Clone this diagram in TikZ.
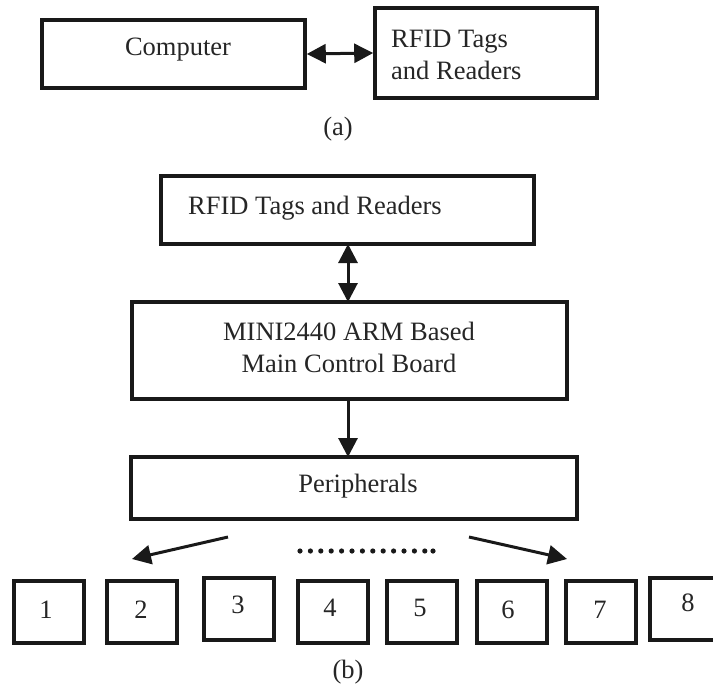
\documentclass[tikz,border=0pt]{standalone}
\usepackage{fontspec}
\setmainfont{Liberation Serif}
\usetikzlibrary{arrows.meta}
\tikzset{
  blk/.style={draw=black!90, line width=3.6pt, inner sep=0pt, fill=white},
  sq/.style={blk, minimum width=70pt, minimum height=62pt},
  lbl/.style={inner sep=0pt, text=black!85, font=\fontsize{26.5}{32}\selectfont},
  conn/.style={line width=3pt, black!90},
  tip/.style={-{Triangle[length=19pt,width=19pt]}},
  dtip/.style={{Triangle[length=19pt,width=19pt]}-{Triangle[length=19pt,width=19pt]}}
}
\begin{document}
\begin{tikzpicture}[x=1pt,y=-1pt]
\useasboundingbox (0,0) rectangle (713,689);
\fill[white] (0,0) rectangle (713,689);
% (a)
\node[blk, minimum width=263pt, minimum height=68pt] (comp) at (173.5,54) {};
\node[lbl] at (178,50) {Computer};
\node[blk, minimum width=222pt, minimum height=90pt] (rfa) at (486,53) {};
\node[lbl, align=left, anchor=west] (rfatext) at (391,55) {RFID Tags\\and Readers};
\draw[conn, dtip] (comp.east) -- (rfa.west);
\node[lbl] (capa) at (338,129) {(a)};
% (b)
\node[blk, minimum width=373pt, minimum height=68pt] (rfb) at (347.5,210) {};
\node[lbl, anchor=west] at (188,208) {RFID Tags and Readers};
\node[blk, minimum width=435pt, minimum height=97pt] (mini) at (349.5,350.5) {};
\node[lbl, align=center] at (349,347) {MINI2440 ARM Based\\Main Control Board};
\node[blk, minimum width=446pt, minimum height=62pt] (per) at (354,488) {};
\node[lbl] at (358,486) {Peripherals};
\coordinate (c1) at (348,244);
\coordinate (c2) at (348,302);
\coordinate (c3) at (348,399);
\coordinate (c4) at (348,457);
\draw[conn, dtip] (c1) -- (c2);
\draw[conn, tip] (c3) -- (c4);
\coordinate (la) at (228,537);
\coordinate (lb) at (132,559);
\coordinate (ra) at (469,537);
\coordinate (rb) at (567,559);
\draw[conn, tip] (la) -- (lb);
\draw[conn, tip] (ra) -- (rb);
\foreach \i in {0,...,12} {
  \fill[black!90] ({300+\i*10.4},551) circle (2.6pt);
}
\fill[black!90] (433,551) circle (2.6pt);
\node[sq] (b1) at (49,612) {};
\node[lbl] at (46,610) {1};
\node[sq] (b2) at (142,612) {};
\node[lbl] at (141,610) {2};
\node[sq] (b3) at (239,609) {};
\node[lbl] at (238,605) {3};
\node[sq] (b4) at (333,612) {};
\node[lbl] at (330,608) {4};
\node[sq] (b5) at (422,612) {};
\node[lbl] at (420,608) {5};
\node[sq] (b6) at (512,612) {};
\node[lbl] at (508,610) {6};
\node[sq] (b7) at (601,612) {};
\node[lbl] at (600,610) {7};
\node[sq] (b8) at (685,609) {};
\node[lbl] at (688,603) {8};
\node[lbl] (capb) at (348,672) {(b)};
\end{tikzpicture}
\end{document}
